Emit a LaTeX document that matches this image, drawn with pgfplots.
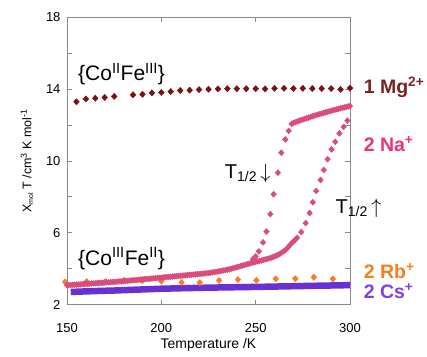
\documentclass[border=0pt]{standalone}
\usepackage{pgfplots}
\pgfplotsset{compat=1.18}
\usepackage{fontspec}
\setmainfont{Liberation Sans}
\definecolor{mgc}{HTML}{7A1212}
\definecolor{mgl}{HTML}{7B2222}
\definecolor{nac}{HTML}{D94C7C}
\definecolor{nal}{HTML}{F0307C}
\definecolor{rbc}{HTML}{F57F20}
\definecolor{csc}{HTML}{6A30D4}
\definecolor{csl}{HTML}{8040E6}
\definecolor{framec}{HTML}{8A8A8A}
\begin{document}
\begin{tikzpicture}
\path[use as bounding box] (-67pt,-51.5pt) rectangle (360pt,304.5pt);
\begin{axis}[
  scale only axis,
  width=283pt, height=287pt,
  xmin=150, xmax=300, ymin=2, ymax=18,
  xtick={150,200,250,300},
  ytick={2,6,10,14,18},
  minor ytick={4,8,12,16},
  tick align=inside,
  major tick length=5pt, minor tick length=5pt,
  axis line style={framec, line width=0.9pt},
  tick style={framec, line width=0.9pt},
  every tick label/.append style={font=\fontsize{13}{15}\selectfont},
  /pgf/number format/assume math mode=true,
  xticklabel style={yshift=-15pt},
  yticklabel style={xshift=-3pt},
  xlabel={Temperature /K},
  xlabel style={font=\fontsize{14}{16}\selectfont, yshift=-2pt, inner sep=1pt},
  ylabel={X\textsubscript{\fontsize{7}{8}\selectfont mol} T /cm\textsuperscript{3} K mol\textsuperscript{-1}},
  ylabel style={font=\fontsize{12.5}{14}\selectfont, yshift=6pt},
  clip=false,
]
% Cs+
\addplot[csc, line width=6.5pt, no marks] coordinates {
(152,2.70) (165,2.75) (175,2.78) (190,2.84) (200,2.88) (225,2.94) (250,2.98) (275,3.03) (300,3.08)
};
% Rb+
\addplot[only marks, mark=diamond*, mark size=3.1pt, color=rbc, mark options={xscale=1.25}] coordinates {
(149,3.26) (160.4,3.28) (170.5,3.28) (180.3,3.35) (190,3.33) (200,3.30) (210.7,3.24) (220.4,3.22) (230.6,3.34) (240.6,3.39) (250.4,3.35) (260.6,3.43) (271,3.44) (280.8,3.52) (290.9,3.43)
};
% Na+ heating, dense part
\addplot[only marks, mark=diamond*, mark size=2.9pt, color=nac, mark options={xscale=1.25}] coordinates {
(150,3.08) (151,3.08) (152,3.09) (153,3.10) (154,3.10) (155,3.11) (156,3.12) (157,3.12) (158,3.13) (159,3.14) (160,3.15) (161,3.15) (162,3.16) (163,3.17) (164,3.18) (165,3.18) (166,3.19) (167,3.20) (168,3.21) (169,3.21) (170,3.22) (171,3.23) (172,3.24) (173,3.24) (174,3.25) (175,3.26) (176,3.27) (177,3.28) (178,3.29) (179,3.29) (180,3.30) (181,3.31) (182,3.32) (183,3.33) (184,3.34) (185,3.35) (186,3.36) (187,3.37) (188,3.38) (189,3.39) (190,3.40) (191,3.41) (192,3.42) (193,3.43) (194,3.44) (195,3.45) (196,3.46) (197,3.47) (198,3.48) (199,3.49) (200,3.50) (201,3.51) (202,3.52) (203,3.53) (204,3.54) (205,3.55) (206,3.56) (207,3.57) (208,3.58) (209,3.59) (210,3.60) (211,3.61) (212,3.62) (213,3.63) (214,3.64) (215,3.65) (216,3.66) (217,3.67) (218,3.68) (219,3.69) (220,3.70) (221,3.71) (222,3.72) (223,3.73) (224,3.75) (225,3.76) (226,3.77) (227,3.79) (228,3.80) (229,3.82) (230,3.84) (231,3.86) (232,3.88) (233,3.90) (234,3.92) (235,3.94) (236,3.96) (237,3.99) (238,4.02) (239,4.05) (240,4.08) (241,4.11) (242,4.14) (243,4.17) (244,4.20) (245,4.23) (246,4.26) (247,4.29) (248,4.32) (249,4.35) (250,4.38) (251,4.40) (252,4.43) (253,4.45) (254,4.48) (255,4.51) (256,4.54) (257,4.57) (258,4.60) (259,4.64) (260,4.68) (261,4.73) (262,4.78) (263,4.84) (264,4.90) (265,4.97) (266,5.06) (267,5.17) (268,5.30) (269,5.41) (270,5.52) (271,5.62) (272,5.72)
};
% Na+ heating, sparse part
\addplot[only marks, mark=diamond*, mark size=3pt, color=nac, mark options={xscale=1.25}] coordinates {
(274.2,6.04) (276.5,6.54) (278.6,7.10) (280.3,7.70) (282.1,8.33) (284.4,8.94) (286.1,9.50) (288.1,10.10) (290.2,10.65) (292.2,11.07) (294.4,11.54) (296.6,11.90) (298.6,12.25)
};
% Na+ cooling, sparse part
\addplot[only marks, mark=diamond*, mark size=3pt, color=nac, mark options={xscale=1.25}] coordinates {
(248.5,4.52) (250,4.68) (251.7,4.96) (253.9,5.46) (255.7,6.07) (257.8,7.04) (259.5,8.15) (261.8,9.35) (263.6,10.46) (265.7,11.20) (267.5,11.68)
};
% Na+ cooling, dense plateau
\addplot[only marks, mark=diamond*, mark size=2.9pt, color=nac, mark options={xscale=1.25}] coordinates {
(269,12.07) (270,12.12) (271,12.16) (272,12.20) (273,12.24) (274,12.28) (275,12.31) (276,12.35) (277,12.38) (278,12.42) (279,12.45) (280,12.49) (281,12.52) (282,12.55) (283,12.59) (284,12.62) (285,12.65) (286,12.68) (287,12.71) (288,12.74) (289,12.77) (290,12.80) (291,12.83) (292,12.86) (293,12.88) (294,12.91) (295,12.94) (296,12.96) (297,12.99) (298,13.01) (299,13.04) (300,13.06)
};
% Mg2+
\addplot[only marks, mark=diamond*, mark size=3.1pt, color=mgc, mark options={xscale=1.25}] coordinates {
(155,13.30) (160,13.46) (165,13.50) (170,13.54) (175,13.60) (185,13.69) (190,13.72) (195,13.80) (200,13.82) (205,13.87) (210,13.93) (215,13.95) (220,13.98) (225,14.00) (230,14.02) (235,14.03) (240,14.03) (245,14.03) (250,14.03) (255,14.02) (260,14.05) (265,14.05) (270,14.04) (275,14.05) (280,14.04) (285,14.04) (290,14.04) (295,13.99) (300,14.06)
};
% annotations
\node[anchor=west, inner sep=0pt, font=\fontsize{21}{24}\selectfont] at (axis cs:155.8,14.85) {\{Co\textsuperscript{II}Fe\textsuperscript{III}\}};
\node[anchor=west, inner sep=0pt, font=\fontsize{21}{24}\selectfont] at (axis cs:155.8,4.55) {\{Co\textsuperscript{III}Fe\textsuperscript{II}\}};
\node[anchor=west, inner sep=0pt, font=\fontsize{20}{24}\selectfont] at (axis cs:233.6,9.3) {T\textsubscript{\fontsize{14}{16}\selectfont 1/2}\,$\downarrow$};
\node[anchor=west, inner sep=0pt, font=\fontsize{20}{24}\selectfont] at (axis cs:292.3,7.35) {T\textsubscript{\fontsize{14}{16}\selectfont 1/2}\,$\uparrow$};
\node[anchor=west, inner sep=0pt, font=\bfseries\fontsize{19.5}{22}\selectfont, text=mgl] at (axis cs:307.2,14.1) {1 Mg\textsuperscript{2+}};
\node[anchor=west, inner sep=0pt, font=\bfseries\fontsize{19.5}{22}\selectfont, text=nal] at (axis cs:307.2,10.95) {2 Na\textsuperscript{+}};
\node[anchor=west, inner sep=0pt, font=\bfseries\fontsize{19.5}{22}\selectfont, text=rbc] at (axis cs:307.2,3.85) {2 Rb\textsuperscript{+}};
\node[anchor=west, inner sep=0pt, font=\bfseries\fontsize{19.5}{22}\selectfont, text=csl] at (axis cs:307.2,2.75) {2 Cs\textsuperscript{+}};
\end{axis}
\end{tikzpicture}
\end{document}
